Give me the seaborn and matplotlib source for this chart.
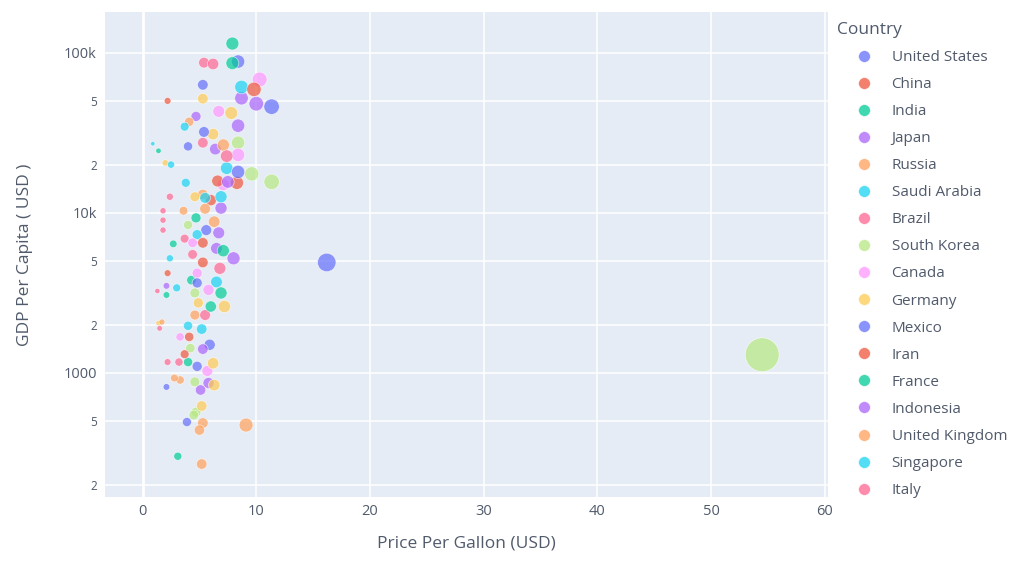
import matplotlib
matplotlib.use("Agg")
import matplotlib.pyplot as plt
from matplotlib.lines import Line2D
import seaborn as sns
import pandas as pd

countries = ["United States", "China", "India", "Japan", "Russia", "Saudi Arabia",
             "Brazil", "South Korea", "Canada", "Germany", "Mexico", "Iran",
             "France", "Indonesia", "United Kingdom", "Singapore", "Italy"]

price = [7.9, 5.4, 6.2, 7.9, 8.4, 5.3, 2.2, 5.3, 8.7, 10.3,
         9.8, 8.7, 10.0, 11.35, 6.7, 7.8, 4.7, 4.1, 8.4, 3.7,
         5.4, 6.2, 5.3, 4.0, 6.4, 7.1, 8.4, 8.4, 7.4, 0.9,
         1.4, 2.0, 2.5, 7.4, 8.4, 9.6, 11.35, 8.3, 6.6, 7.1,
         7.5, 3.8, 2.4, 4.6, 5.3, 5.5, 6.0, 6.9, 6.9, 5.5,
         1.8, 3.6, 1.8, 4.7, 6.3, 6.7, 5.6, 4.8, 4.0, 1.8,
         3.7, 4.4, 5.3, 2.7, 6.5, 7.1, 8.0, 2.4, 4.4, 5.3,
         6.8, 2.2, 4.8, 4.3, 4.8, 6.5, 6.9, 3.0, 2.1, 2.1,
         1.3, 4.6, 5.8, 4.9, 6.0, 7.2, 4.6, 5.5, 1.4, 1.7,
         1.5, 4.0, 5.2, 4.1, 5.9, 3.3, 5.3, 4.2, 3.7, 3.2,
         4.0, 4.8, 6.2, 5.7, 2.2, 3.3, 2.8, 2.1, 4.6, 5.8,
         5.1, 6.3, 5.2, 4.7, 4.5, 3.9, 5.3, 5.0, 9.1, 3.1,
         5.2, 16.2, 54.5]

gdp = [114000, 86600, 85000, 86000, 88000, 63000, 50000, 51600, 61000, 68000,
       59000, 52000, 48000, 46000, 43000, 42000, 40000, 37000, 35000, 34500,
       32000, 31000, 27400, 26000, 25000, 26500, 27400, 23000, 22600, 27000,
       24400, 20500, 20000, 19000, 18000, 17500, 15600, 15400, 15800, 15000,
       15600, 15400, 12600, 12600, 13000, 12400, 12000, 12600, 10700, 10600,
       10300, 10300, 9000, 9300, 8800, 7500, 7800, 7300, 8400, 7800,
       6900, 6500, 6500, 6400, 6000, 5800, 5200, 5200, 5500, 4900,
       4500, 4200, 4200, 3800, 3650, 3700, 3160, 3400, 3500, 3070,
       3250, 3160, 3300, 2740, 2600, 2600, 2300, 2300, 2050, 2080,
       1900, 1970, 1880, 1680, 1500, 1680, 1410, 1430, 1310, 1170,
       1170, 1100, 1150, 1030, 1170, 904, 930, 818, 880, 866,
       783, 840, 622, 570, 546, 494, 487, 440, 473, 302,
       270, 4900, 1300]

country = ["India", "Brazil", "Italy", "France", "United States", "Mexico", "China", "Germany", "Saudi Arabia", "Canada",
           "Iran", "Japan", "Indonesia", "United States", "Canada", "Germany", "Japan", "Russia", "Indonesia", "Singapore",
           "Mexico", "Germany", "Brazil", "United States", "Japan", "United Kingdom", "South Korea", "Canada", "Italy", "Saudi Arabia",
           "India", "Germany", "Singapore", "Saudi Arabia", "Mexico", "South Korea", "South Korea", "China", "Iran", "Canada",
           "Indonesia", "Singapore", "Brazil", "Germany", "Russia", "Saudi Arabia", "China", "Singapore", "Japan", "United Kingdom",
           "Italy", "Russia", "Brazil", "France", "United Kingdom", "Indonesia", "United States", "Saudi Arabia", "South Korea", "Italy",
           "Brazil", "Canada", "Iran", "India", "Japan", "France", "Indonesia", "Singapore", "Italy", "China",
           "Brazil", "Iran", "Canada", "India", "Mexico", "Saudi Arabia", "France", "Singapore", "Japan", "India",
           "Italy", "South Korea", "Canada", "Germany", "France", "Germany", "Russia", "Brazil", "Germany", "United Kingdom",
           "Italy", "Saudi Arabia", "Singapore", "China", "United States", "Canada", "Indonesia", "South Korea", "Iran", "Brazil",
           "India", "Mexico", "Germany", "Canada", "Italy", "Russia", "United Kingdom", "United States", "South Korea", "Japan",
           "Indonesia", "Germany", "Germany", "South Korea", "South Korea", "Mexico", "Russia", "United Kingdom", "Russia", "France",
           "United Kingdom", "United States", "South Korea"]

y_ticks = [200, 500, 1000, 2000, 5000, 10000, 20000, 50000, 100000]
y_tick_labels = ["2", "5", "1000", "2", "5", "10k", "2", "5", "100k"]
x_ticks = [0, 10, 20, 30, 40, 50, 60]

base_colors = ["#636EFA", "#EF553B", "#00CC96", "#AB63FA", "#FFA15A",
               "#19D3F3", "#FF6692", "#B6E880", "#FF97FF", "#FECB52"]
palette = {c: base_colors[i % len(base_colors)] for i, c in enumerate(countries)}

df = pd.DataFrame({"Price Per Gallon (USD)": price,
                   "GDP Per Capita ( USD )": gdp,
                   "Country": country})
# draw traces in legend order so later countries sit on top
df["order"] = df["Country"].map({c: i for i, c in enumerate(countries)})
df = df.sort_values("order", kind="stable")

sns.set_style("white")
plt.rcParams["font.family"] = ["Open Sans", "DejaVu Sans"]
text_color = "#505a6b"

fig = plt.figure(figsize=(10.30, 5.61), dpi=100)
ax = fig.add_axes([0.102, 0.114, 0.702, 0.865])
ax.set_facecolor("#E5ECF6")

ax.set_yscale("log")
ax.set_xlim(-3.3, 60.3)
ax.set_ylim(168, 180000)

for v in y_ticks:
    ax.axhline(v, color="white", lw=1.1, zorder=0)
for v in x_ticks:
    ax.axvline(v, color="white", lw=2.0 if v == 0 else 1.1, zorder=0)

sns.scatterplot(data=df, x="Price Per Gallon (USD)", y="GDP Per Capita ( USD )",
                hue="Country", hue_order=countries, palette=palette,
                size="Price Per Gallon (USD)", sizes=(0, 600), size_norm=(0, 55),
                alpha=0.7, edgecolor="white", linewidth=0.5,
                legend=False, ax=ax, zorder=3)

for s in ax.spines.values():
    s.set_visible(False)

ax.set_yticks(y_ticks)
ax.set_yticklabels(y_tick_labels)
ax.minorticks_off()
for lbl, txt in zip(ax.get_yticklabels(), y_tick_labels):
    lbl.set_fontsize(10.5 if len(txt) > 1 else 8.5)
    lbl.set_color(text_color)
ax.set_xticks(x_ticks)
ax.set_xticklabels([str(v) for v in x_ticks], fontsize=10.5, color=text_color)
ax.tick_params(length=0, pad=6)
ax.tick_params(axis="x", pad=5)

ax.set_xlabel("Price Per Gallon (USD)", fontsize=12.5, color=text_color, labelpad=12)
ax.set_ylabel("GDP Per Capita ( USD )", fontsize=12.5, color=text_color, labelpad=22)

handles = [Line2D([0], [0], marker="o", linestyle="", markersize=8.5,
                  markerfacecolor=palette[c], markeredgecolor="white",
                  markeredgewidth=0.5, alpha=0.75) for c in countries]
leg = fig.legend(handles, countries, title="Country", loc="upper left",
                 bbox_to_anchor=(0.807, 0.972), frameon=False,
                 fontsize=11, title_fontsize=12.5, labelspacing=0.79,
                 handlelength=3.5, handletextpad=0.05,
                 borderaxespad=0, alignment="left")
for t in leg.get_texts():
    t.set_color(text_color)
leg.get_title().set_color(text_color)

fig.savefig("out.png", dpi=100)
